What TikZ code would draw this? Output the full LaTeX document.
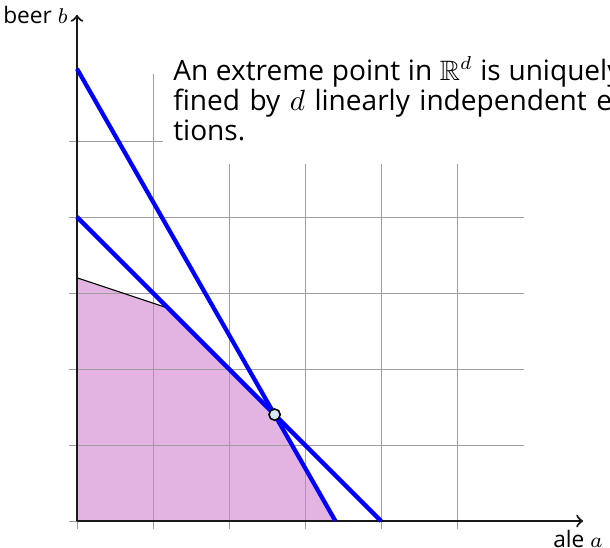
\documentclass[tikz,border=0pt]{standalone}
\usepackage{amssymb}
\usepackage{fontspec}
\setmainfont{Open Sans}
\usetikzlibrary{positioning}
\definecolor{RegionFill}{HTML}{E3B3E2}
\definecolor{PointFill}{HTML}{D6E6F4}
\tikzset{>=to,every node/.style={font=\fontsize{8.5}{10}\selectfont},gridline/.style={draw=black!38,
 line width=0.35pt},axisline/.style={draw=black!90,line width=0.8pt,->},constraint/.style={draw=blue,
 line width=1.6pt},vertex/.style={circle,draw=black,fill=PointFill,line width=0.6pt,inner sep=0pt,
 minimum size=4.2pt},claimbox/.style={fill=white,text width=6.55cm,align=justify,inner xsep=0.13cm,
 inner ysep=0.31cm,font=\fontsize{10.5}{11.3}\selectfont}}

\begin{document}
\begin{tikzpicture}
\useasboundingbox (-1.013,-0.355) rectangle (7.013,6.855);
\coordinate (O) at (0,0);\coordinate (xtip) at (6.66,0);\coordinate (ytip) at (0,6.66);
\coordinate (cornB) at (0,3.2);\coordinate (hopsB) at (0,4);\coordinate (maltB) at (0,5.95);
\coordinate (hopsA) at (4,0);\coordinate (maltA) at (3.4,0);\coordinate (corner) at (1.2,2.8);
\fill[RegionFill] (O) -- (cornB) -- (corner) -- (2.6,1.4) -- (maltA) -- cycle;
\draw[gridline] (-0.1,-0.1) grid (5.88,5.88);
\node[claimbox,anchor=south west] (claim) at (1.13,4.684) {An extreme point in $\mathbb{R}^d$ is
 uniquely defined by $d$ linearly independent equations.};
\draw[black,line width=0.4pt] (cornB) -- (corner);
\draw[axisline] (O) -- (xtip);\draw[axisline] (O) -- (ytip);
\draw[constraint] (maltB) -- (maltA);\draw[constraint] (hopsB) -- (hopsA);
\node[vertex] (opt) at (2.6,1.4) {};
\node[left=0pt of ytip] (ylab) {beer $b$};\node[below=0pt of xtip,xshift=-2pt] (xlab) {ale $a$};
\end{tikzpicture}
\end{document}
